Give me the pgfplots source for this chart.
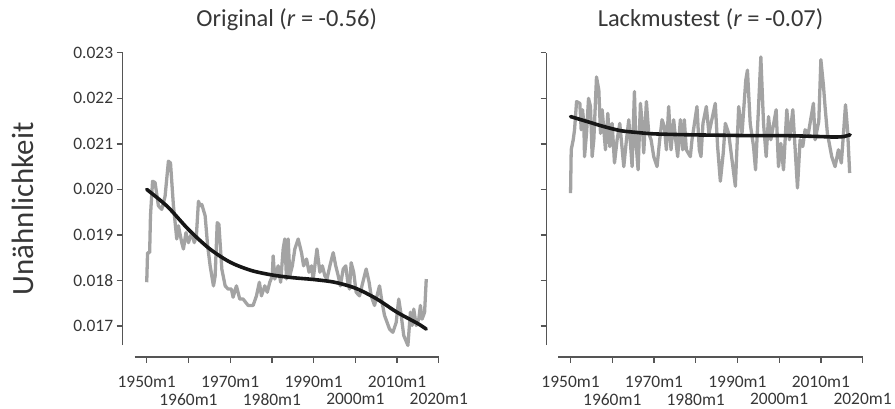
\documentclass[border=0pt]{standalone}
\usepackage{pgfplots}
\pgfplotsset{compat=1.18}
\usepackage{fontspec}
\setmainfont{Carlito}
\definecolor{greyline}{RGB}{163,163,163}
\definecolor{axiscol}{RGB}{85,85,85}
\definecolor{txt}{RGB}{55,55,55}
\definecolor{smoothc}{RGB}{22,22,22}
\pgfplotsset{
  panel/.style={
    anchor=south west,
    scale only axis, width=305pt, height=293pt,
    xmin=1947.1, xmax=2020, ymin=0.01658, ymax=0.023,
    axis lines=left,
    axis line style={-, draw=axiscol, line width=1.3pt},
    axis x line shift=12pt, axis y line shift=12pt,
    tick align=outside, major tick length=6pt,
    tick style={draw=axiscol, line width=1.3pt},
    xtick={1950,1970,1990,2010},
    xticklabels={1950m1,1970m1,1990m1,2010m1},
    xticklabel style={yshift=-10pt},
    extra x ticks={1960,1980,2000,2020},
    extra x tick labels={1960m1,1980m1,2000m1,2020m1},
    extra x tick style={xticklabel style={yshift=-17pt}},
    ytick={0.017,0.018,0.019,0.020,0.021,0.022,0.023},
    scaled y ticks=false, scaled x ticks=false,
    ticklabel style={font=\fontsize{17.5}{17.5}\selectfont, text=txt},
    title style={at={(axis description cs:0.5,1)}, anchor=base, yshift=20.5pt,
      font=\fontsize{24.5}{24.5}\selectfont, text=txt},
    clip=false,
  },
  grey/.style={draw=greyline, line width=3.3pt, line join=round},
  fit/.style={draw=smoothc, line width=3.6pt, smooth, line cap=round},
}
\begin{document}
\begin{tikzpicture}
\path (0pt,0pt) rectangle (895pt,404pt);
\begin{axis}[panel, at={(135pt,58pt)},
  yticklabels={0.017,0.018,0.019,0.020,0.021,0.022,0.023},
  title={Original (\textit{r} = -0.56)},
  ylabel={Unähnlichkeit},
  ylabel style={at={(axis description cs:-0.3334,0.466)}, anchor=base,
    font=\fontsize{31}{31}\selectfont, text=txt},
]
\addplot[grey] coordinates {
(1950.0,0.01796) (1950.2,0.01861) (1950.7,0.01861) (1950.9,0.01942)
(1951.4,0.02018) (1952.0,0.02015) (1952.8,0.01964) (1953.6,0.01956)
(1954.4,0.01985) (1955.2,0.02062) (1955.7,0.02058) (1956.4,0.01964)
(1957.2,0.01891) (1957.6,0.01920) (1958.4,0.01883) (1958.8,0.01869)
(1959.4,0.01905) (1960.0,0.01883) (1960.8,0.01905) (1961.4,0.01883)
(1961.9,0.01898) (1962.4,0.01974) (1962.8,0.01964) (1963.2,0.01967)
(1964.0,0.01942) (1964.6,0.01876) (1965.2,0.01832) (1966.0,0.01788)
(1966.4,0.01810) (1966.9,0.01927) (1967.3,0.01923) (1968.0,0.01825)
(1968.8,0.01788) (1969.5,0.01781) (1970.3,0.01781) (1970.7,0.01763)
(1971.5,0.01788) (1972.3,0.01759) (1973.1,0.01759) (1974.3,0.01745)
(1975.5,0.01745) (1976.3,0.01766) (1977.0,0.01796) (1977.5,0.01766)
(1978.3,0.01788) (1978.9,0.01774) (1979.5,0.01796) (1980.1,0.01810)
(1980.3,0.01854) (1980.7,0.01803) (1981.5,0.01832) (1982.1,0.01796)
(1982.7,0.01869) (1983.1,0.01891) (1983.5,0.01803) (1983.9,0.01891)
(1984.3,0.01810) (1984.9,0.01832) (1985.5,0.01869) (1986.3,0.01891)
(1987.1,0.01861) (1987.6,0.01832) (1988.3,0.01847) (1988.9,0.01818)
(1989.5,0.01832) (1989.9,0.01803) (1990.8,0.01869) (1991.5,0.01818)
(1992.1,0.01832) (1992.7,0.01810) (1993.2,0.01803) (1993.9,0.01832)
(1994.7,0.01861) (1995.3,0.01832) (1995.9,0.01810) (1996.4,0.01788)
(1997.1,0.01825) (1997.7,0.01832) (1998.2,0.01796) (1998.6,0.01781)
(1999.0,0.01839) (1999.6,0.01818) (2000.2,0.01774) (2001.0,0.01766)
(2001.8,0.01796) (2002.6,0.01825) (2003.3,0.01796) (2003.8,0.01766)
(2004.6,0.01745) (2005.2,0.01766) (2005.8,0.01788) (2006.4,0.01752)
(2007.0,0.01723) (2008.2,0.01693) (2009.0,0.01686) (2009.8,0.01708)
(2010.4,0.01759) (2011.0,0.01723) (2011.6,0.01679) (2012.6,0.01657)
(2013.2,0.01730) (2013.6,0.01701) (2014.0,0.01737) (2014.6,0.01701)
(2015.2,0.01715) (2015.6,0.01745) (2016.0,0.01715) (2016.6,0.01730)
(2017.0,0.01803)
};
\addplot[fit] coordinates {
(1950,0.02000) (1955,0.01962) (1960,0.01912) (1965,0.01870) (1970,0.01840)
(1975,0.01822) (1980,0.01812) (1985,0.01806) (1990,0.01802) (1995,0.01796)
(2000,0.01783) (2005,0.01760) (2010,0.01730) (2015,0.01705) (2017,0.01693)
};
\end{axis}
\begin{axis}[panel, at={(560pt,58pt)},
  yticklabels={},
  title={Lackmustest (\textit{r} = -0.07)},
]
\addplot[grey] coordinates {
(1950.0,0.01992) (1950.16,0.02087) (1950.64,0.02109) (1950.96,0.02131)
(1951.44,0.02193) (1952.23,0.02189) (1952.55,0.02131) (1952.87,0.02175)
(1953.19,0.02145) (1953.35,0.02072) (1953.83,0.02123) (1954.31,0.02200)
(1954.78,0.02182) (1955.18,0.02072) (1955.58,0.02109) (1956.22,0.02247)
(1956.78,0.02218) (1957.18,0.02123) (1957.58,0.02175) (1958.37,0.02087)
(1958.93,0.02167) (1959.41,0.02094) (1959.97,0.02145) (1960.53,0.02058)
(1961.16,0.02109) (1961.8,0.02145) (1962.76,0.02050) (1963.4,0.02109)
(1963.96,0.02153) (1964.75,0.02050) (1965.31,0.02215) (1965.63,0.02109)
(1966.19,0.02043) (1966.75,0.02189) (1967.22,0.02138) (1967.54,0.02080)
(1968.18,0.02193) (1968.74,0.02123) (1969.3,0.02109) (1969.94,0.02072)
(1970.73,0.02050) (1971.37,0.02109) (1971.93,0.02153) (1972.49,0.02138)
(1972.97,0.02087) (1973.52,0.02182) (1974.08,0.02087) (1974.72,0.02153)
(1975.2,0.02109) (1975.68,0.02072) (1976.32,0.02153) (1976.87,0.02087)
(1977.27,0.02153) (1977.75,0.02087) (1978.71,0.02072) (1979.11,0.02109)
(1980.3,0.02182) (1980.86,0.02087) (1981.26,0.02072) (1981.74,0.02145)
(1982.54,0.02182) (1983.17,0.02123) (1984.69,0.02189) (1985.25,0.02094)
(1985.9,0.02018) (1986.6,0.02080) (1987.1,0.02145) (1987.9,0.02123)
(1988.6,0.02072) (1989.5,0.02007) (1990.3,0.02182) (1991.1,0.02123)
(1992.0,0.02240) (1992.4,0.02262) (1993.06,0.02145) (1993.86,0.02094)
(1994.34,0.02043) (1995.06,0.02182) (1995.61,0.02291) (1996.25,0.02145)
(1996.89,0.02072) (1997.45,0.02160) (1998.0,0.02109) (1999.28,0.02175)
(1999.84,0.02050) (2000.4,0.02101) (2001.04,0.02043) (2001.83,0.02175)
(2002.47,0.02109) (2003.27,0.02175) (2004.39,0.02003) (2005.02,0.02109)
(2005.66,0.02094) (2006.22,0.02131) (2007.0,0.02123) (2008.21,0.02189)
(2008.61,0.02109) (2009.5,0.02150) (2010.0,0.02285) (2010.6,0.02230)
(2011.0,0.02182) (2011.56,0.02123) (2012.6,0.02072) (2013.4,0.02050)
(2014.2,0.02087) (2014.9,0.02058) (2015.4,0.02120) (2015.9,0.02186)
(2016.4,0.02130) (2016.9,0.02036)
};
\addplot[fit] coordinates {
(1950,0.02160) (1954,0.02149) (1958,0.02138) (1962,0.02129) (1966,0.02125)
(1970,0.02122) (1978,0.02120) (1986,0.02119) (1994,0.02118) (2002,0.02118)
(2010,0.02116) (2013,0.02115) (2015.4,0.02116) (2017,0.02120)
};
\end{axis}
\end{tikzpicture}
\end{document}
